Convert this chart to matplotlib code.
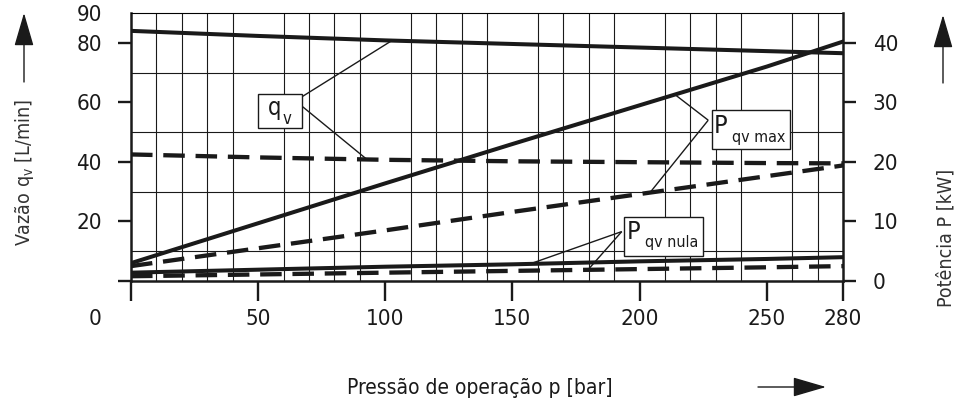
import numpy as np
import matplotlib
matplotlib.use('Agg')
import matplotlib.pyplot as plt
from matplotlib import font_manager as fm
from matplotlib.patches import Rectangle, FancyArrowPatch
from matplotlib.transforms import ScaledTranslation

# pressao de operacao [bar]
pressure = [0, 50, 100, 150, 200, 250, 280]
# vazao qv [L/min]  (eixo esquerdo)
qv_solid = [84.0, 82.3, 80.8, 79.6, 78.4, 77.2, 76.5]
qv_dashed = [42.5, 41.5, 40.7, 40.2, 39.9, 39.6, 39.5]
# potencia P [kW]  (eixo direito)
pmax_solid = [3.0, 9.7, 16.4, 23.0, 29.5, 36.0, 40.2]
pmax_dashed = [2.5, 5.5, 8.5, 11.6, 14.6, 17.6, 19.4]
pnula_solid = [1.4, 1.9, 2.4, 2.8, 3.3, 3.7, 4.0]
pnula_dashed = [0.8, 1.1, 1.4, 1.7, 2.0, 2.3, 2.5]

x_ticks = [0, 50, 100, 150, 200, 250, 280]
x_labels = ['0', '50', '100', '150', '200', '250', '280']
yl_ticks = [0, 20, 40, 60, 80, 90]
yl_labels = ['', '20', '40', '60', '80', '90']
yr_ticks = [0, 10, 20, 30, 40]

names = {f.name for f in fm.fontManager.ttflist}
if 'Liberation Sans Narrow' in names:
    plt.rcParams['font.family'] = ['Liberation Sans Narrow', 'DejaVu Sans']
else:
    plt.rcParams['font.family'] = ['DejaVu Sans']
    plt.rcParams['font.stretch'] = 'condensed'
plt.rcParams['mathtext.fontset'] = 'custom'
plt.rcParams['mathtext.rm'] = plt.rcParams['font.family'][0]
plt.rcParams['mathtext.it'] = plt.rcParams['font.family'][0]

ink = '#1a1a1a'
W, H = 970, 403

fig = plt.figure(figsize=(9.7, 4.03), dpi=100)
ax = fig.add_axes([131 / W, 1 - 281 / H, 712 / W, 268 / H])
ax2 = ax.twinx()

ax.set_xlim(0, 280)
ax.set_ylim(0, 90)
ax2.set_ylim(0, 45)

# grade
ax.set_xticks(np.arange(0, 281, 10), minor=True)
ax.set_yticks(np.arange(0, 91, 10), minor=True)
ax.grid(which='minor', color=ink, lw=0.8)
ax.set_axisbelow(True)

ax.set_xticks(x_ticks, x_labels)
ax.set_yticks(yl_ticks, yl_labels)
ax2.set_yticks(yr_ticks, [str(v) for v in yr_ticks])

ax.tick_params(which='minor', length=0)
ax.tick_params(axis='x', which='major', length=14.4, width=1.7, pad=5.5,
               labelsize=16, colors=ink)
ax.tick_params(axis='y', which='major', length=9.4, width=1.7, pad=11.5,
               labelsize=16, colors=ink)
ax2.tick_params(axis='y', length=9.4, width=1.7, pad=12, labelsize=16, colors=ink)
ax.yaxis.get_major_ticks()[-1].tick1line.set_visible(False)

# rotulo "0" deslocado para a esquerda
lab0 = ax.get_xticklabels()[0]
lab0.set_transform(lab0.get_transform() + ScaledTranslation(-0.36, 0, fig.dpi_scale_trans))

for s in ['left', 'bottom']:
    ax.spines[s].set_linewidth(1.8)
    ax.spines[s].set_color(ink)
ax.spines['top'].set_linewidth(0.8)
ax.spines['right'].set_visible(False)
for s in ['left', 'top', 'bottom']:
    ax2.spines[s].set_visible(False)
ax2.spines['right'].set_linewidth(1.8)
ax2.spines['right'].set_color(ink)

dash = (0, (5.0, 2.5))
ax.plot(pressure, qv_solid, color=ink, lw=2.9)
ax.plot(pressure, qv_dashed, color=ink, lw=3.1, linestyle=dash)
ax2.plot(pressure, pmax_solid, color=ink, lw=2.9)
ax2.plot(pressure, pmax_dashed, color=ink, lw=3.1, linestyle=dash)
ax2.plot(pressure, pnula_solid, color=ink, lw=2.9)
ax2.plot(pressure, pnula_dashed, color=ink, lw=3.1, linestyle=dash)


def label_box(a, x0, y0, x1, y1, main, sub, mpos, spos, msize, ssize):
    a.add_patch(Rectangle((x0, y0), x1 - x0, y1 - y0, facecolor='white',
                          edgecolor=ink, lw=1.0, zorder=6, clip_on=False))
    a.text(mpos[0], mpos[1], main, fontsize=msize, color=ink, ha='left',
           va='baseline', zorder=7)
    a.text(spos[0], spos[1], sub, fontsize=ssize, color=ink, ha='left',
           va='baseline', zorder=7)


def leaders(a, start, targets, xs, ys):
    for (sx, sy), tx in zip(start, targets):
        ty = np.interp(tx, xs, ys)
        a.plot([sx, tx], [sy, ty], color=ink, lw=1.0, zorder=5,
               solid_capstyle='butt')


# q_v
label_box(ax, 50.1, 51.5, 67.1, 62.7, 'q', 'v', (54.0, 55.7), (59.5, 52.7), 17, 12)
leaders(ax, [(67.1, 61.8)], [102.6], pressure, qv_solid)
leaders(ax, [(67.1, 58.8)], [92.8], pressure, qv_dashed)

# P qv max
label_box(ax2, 228.4, 22.2, 259.1, 28.7, 'P', 'qv max', (229.2, 24.8), (236.5, 23.4), 18, 11.5)
leaders(ax2, [(227.0, 27.0)], [213.9], pressure, pmax_solid)
leaders(ax2, [(227.0, 27.0)], [204.1], pressure, pmax_dashed)

# P qv nula
label_box(ax2, 193.9, 4.2, 224.8, 10.7, 'P', 'qv nula', (194.8, 7.0), (202.0, 5.76), 18, 11.5)
leaders(ax2, [(193.0, 8.3)], [156.9], pressure, pnula_solid)
leaders(ax2, [(193.0, 8.3)], [179.7], pressure, pnula_dashed)

# titulos dos eixos
fig.text(480 / W, 1 - 393.5 / H, 'Pressão de operação p [bar]', fontsize=15,
         color=ink, ha='center', va='baseline')
fig.text(25 / W, 1 - 173 / H, r'Vazão q$_\mathrm{v}$ [L/min]', fontsize=14,
         color='#333333', rotation=90, ha='center', va='center')
fig.text(946 / W, 1 - 238 / H, 'Potência P [kW]', fontsize=14,
         color='#333333', rotation=90, ha='center', va='center')


def fig_arrow(p0, p1):
    arr = FancyArrowPatch((p0[0] / W, 1 - p0[1] / H), (p1[0] / W, 1 - p1[1] / H),
                          transform=fig.transFigure, arrowstyle='-|>,head_length=2.09,head_width=0.61',
                          mutation_scale=10, color=ink, lw=1.0, shrinkA=0, shrinkB=0)
    fig.add_artist(arr)


fig_arrow((24, 82), (24, 13))
fig_arrow((943, 83), (943, 15))
fig_arrow((758, 387), (826, 387))

fig.savefig('out.png', dpi=100)
